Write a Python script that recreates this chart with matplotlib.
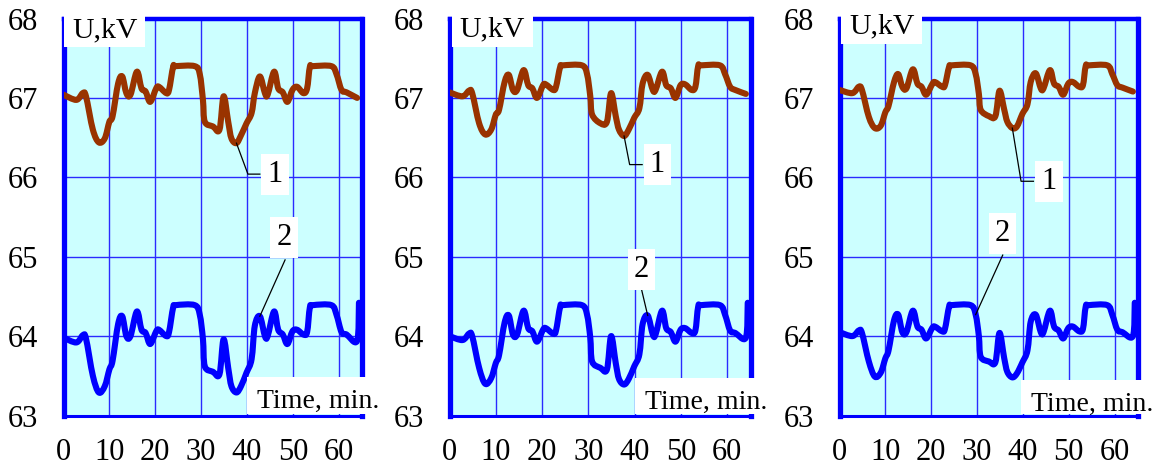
import matplotlib
matplotlib.use("Agg")
import matplotlib.pyplot as plt
from matplotlib.patches import Rectangle, PathPatch
from matplotlib.path import Path

W, H, DPI = 1174, 469, 100

# Sampling instants, minutes
time_min = [0, 2.8, 4.2, 4.9, 6.4, 7.7, 9.0, 10.0, 10.7, 11.9, 12.8, 13.7, 14.6,
            16.0, 17.0, 17.9, 18.9, 20.2, 20.8, 22.4, 23.0, 23.9, 24.5, 28.6,
            29.7, 30.4, 30.8, 32.6, 34.0, 34.9, 35.9, 36.6, 37.7, 38.7, 39.9,
            41.0, 41.7, 42.8, 43.9, 44.5, 45.9, 46.8, 47.8, 48.8, 49.9, 50.9,
            52.3, 53.1, 53.7, 54.4, 58.4, 59.5, 60.6, 61.7, 64.0]
# curve 2 finishes with a final step-up sample
time_min_2 = time_min + [64.4]

# Panel (a)
u1_a = [67.04, 66.975, 67.06, 67.02, 66.6, 66.44, 66.49, 66.7, 66.77, 67.18, 67.27,
        67.06, 67.04, 67.33, 67.12, 67.08, 66.95, 67.12, 67.14, 67.06, 67.1, 67.39,
        67.4, 67.4, 67.3, 66.97, 66.7, 66.64, 66.6, 67.02, 66.7, 66.49, 66.43,
        66.53, 66.68, 66.81, 67.06, 67.27, 67.06, 67.04, 67.33, 67.12, 67.07,
        66.95, 67.1, 67.14, 67.06, 67.12, 67.39, 67.4, 67.4, 67.3, 67.1, 67.07, 67.0]
u2_a = [63.98, 63.92, 64.01, 63.97, 63.5, 63.29, 63.37, 63.58, 63.69, 64.15, 64.25,
        64.0, 64.0, 64.31, 64.08, 64.04, 63.9, 64.06, 64.08, 64.0, 64.05, 64.36,
        64.39, 64.39, 64.27, 63.96, 63.62, 63.55, 63.52, 63.96, 63.6, 63.37, 63.29,
        63.37, 63.54, 63.71, 64.13, 64.25, 64.0, 64.0, 64.31, 64.08, 64.02, 63.9,
        64.06, 64.08, 64.02, 64.05, 64.36, 64.39, 64.39, 64.27, 64.05, 64.02,
        63.94, 64.42]

# Panel (b)
u1_b = [67.07, 67.02, 67.09, 67.06, 66.68, 66.54, 66.6, 66.79, 66.85, 67.2, 67.29,
        67.1, 67.1, 67.35, 67.16, 67.12, 67.0, 67.16, 67.17, 67.1, 67.14, 67.39,
        67.41, 67.41, 67.3, 67.02, 66.79, 66.68, 66.7, 67.06, 66.77, 66.6, 66.52,
        66.6, 66.75, 66.87, 67.18, 67.29, 67.1, 67.1, 67.33, 67.16, 67.12, 67.0,
        67.16, 67.17, 67.1, 67.14, 67.4, 67.41, 67.41, 67.3, 67.14, 67.1, 67.05]
u2_b = [64.0, 63.95, 64.03, 64.0, 63.6, 63.4, 63.47, 63.66, 63.76, 64.17, 64.26,
        64.02, 64.02, 64.32, 64.1, 64.06, 63.93, 64.08, 64.1, 64.03, 64.07, 64.37,
        64.39, 64.39, 64.27, 63.98, 63.68, 63.6, 63.58, 64.0, 63.66, 63.46, 63.39,
        63.46, 63.62, 63.77, 64.15, 64.26, 64.02, 64.02, 64.32, 64.1, 64.05, 63.93,
        64.08, 64.1, 64.04, 64.07, 64.37, 64.39, 64.39, 64.27, 64.07, 64.04,
        63.98, 64.42]

# Panel (c)
u1_c = [67.1, 67.06, 67.14, 67.1, 66.76, 66.62, 66.65, 66.82, 66.9, 67.2, 67.3,
        67.14, 67.12, 67.36, 67.18, 67.14, 67.04, 67.17, 67.2, 67.14, 67.16, 67.39,
        67.41, 67.41, 67.3, 67.05, 66.85, 66.77, 66.77, 67.09, 66.86, 66.7, 66.62,
        66.64, 66.8, 66.92, 67.2, 67.31, 67.12, 67.12, 67.35, 67.18, 67.14, 67.04,
        67.18, 67.2, 67.14, 67.16, 67.4, 67.41, 67.41, 67.3, 67.16, 67.13, 67.08]
u2_c = [64.05, 64.0, 64.07, 64.04, 63.68, 63.49, 63.54, 63.72, 63.82, 64.2, 64.27,
        64.05, 64.05, 64.32, 64.12, 64.08, 63.97, 64.1, 64.12, 64.06, 64.09, 64.37,
        64.39, 64.39, 64.27, 64.0, 63.74, 63.68, 63.67, 64.04, 63.73, 63.55, 63.48,
        63.53, 63.67, 63.82, 64.18, 64.27, 64.05, 64.05, 64.32, 64.12, 64.07, 63.97,
        64.1, 64.12, 64.06, 64.09, 64.37, 64.39, 64.39, 64.27, 64.08, 64.05,
        64.0, 64.42]

x_ticks = [0, 10, 20, 30, 40, 50, 60]
y_ticks = [63, 64, 65, 66, 67, 68]
y_label = "U,kV"
x_label = "Time, min."

BLUE = "#0000ff"
GRID = "#2a2aff"
BROWN = "#993300"
FILL = "#ccffff"
FS_TICK = 22
FS_ULAB = 21.5
FS_TLAB = 20

plt.rcParams["font.family"] = ["Liberation Serif", "DejaVu Serif"]
fig = plt.figure(figsize=(W / DPI, H / DPI), dpi=DPI)


def frac_rect(x0, y0, x1, y1):
    """Pixel box (top-left origin) -> figure-fraction rect."""
    return [x0 / W, 1 - y1 / H, (x1 - x0) / W, (y1 - y0) / H]


def white_box(x0, y0, x1, y1):
    fig.patches.append(Rectangle((x0 / W, 1 - y1 / H), (x1 - x0) / W, (y1 - y0) / H,
                                 transform=fig.transFigure, fc="white", ec="none",
                                 zorder=5))


def smooth_line(ax, xs, ys, **kw):
    """Draw a smoothed (Catmull-Rom / cubic Bezier) line through the samples."""
    pts = list(zip(xs, ys))
    n = len(pts)
    verts, codes = [pts[0]], [Path.MOVETO]
    for i in range(n - 1):
        p0 = pts[max(i - 1, 0)]
        p1 = pts[i]
        p2 = pts[i + 1]
        p3 = pts[min(i + 2, n - 1)]
        c1 = (p1[0] + (p2[0] - p0[0]) / 6, p1[1] + (p2[1] - p0[1]) / 6)
        c2 = (p2[0] - (p3[0] - p1[0]) / 6, p2[1] - (p3[1] - p1[1]) / 6)
        verts += [c1, c2, p2]
        codes += [Path.CURVE4] * 3
    patch = PathPatch(Path(verts, codes), fill=False, capstyle="round",
                      joinstyle="round", **kw)
    ax.add_patch(patch)


panels = [
    dict(ax_px=(63.5, 18.5, 361.7, 415.5), u1=u1_a, u2=u2_a,
         ubox=(64, 15, 145, 47), utxt=(72, 37),
         tbox=(247, 377, 382, 414), ttxt=(257, 408),
         lab1=(46.1, 66.04), bend1=40.2, edge1=42.8, i1=32,
         lab2=(48.1, 65.24), top2=(48.3, 64.96), i2=37),
    dict(ax_px=(449.5, 18.5, 750.5, 415.5), u1=u1_b, u2=u2_b,
         ubox=(452, 15, 533, 47), utxt=(459, 36),
         tbox=(635, 378, 775, 414), ttxt=(645, 409),
         lab1=(44.9, 66.16), bend1=38.9, edge1=41.6, i1=32,
         lab2=(41.5, 64.84), top2=(41.5, 64.58), i2=37),
    dict(ax_px=(839.5, 18.5, 1137.5, 415.5), u1=u1_c, u2=u2_c,
         ubox=(841, 14, 922, 44), utxt=(849, 33),
         tbox=(1021, 380, 1162, 414), ttxt=(1031, 411),
         lab1=(45.7, 65.95), bend1=39.6, edge1=42.3, i1=32,
         lab2=(35.5, 65.29), top2=(35.6, 65.02), i2=24),
]

for p in panels:
    x0, y0, x1, y1 = p["ax_px"]
    ax = fig.add_axes(frac_rect(x0, y0, x1, y1))
    ax.set_facecolor(FILL)
    ax.set_xlim(0, 65)
    ax.set_ylim(63, 68)
    ax.set_xticks(x_ticks)
    ax.set_yticks(y_ticks)
    ax.tick_params(length=0, labelsize=FS_TICK)
    ax.tick_params(axis="y", pad=18.5)
    ax.tick_params(axis="x", pad=16)
    ax.grid(True, color=GRID, lw=1.0)
    ax.set_axisbelow(True)
    for side, lw in (("left", 3.8), ("right", 3.8), ("top", 3.2), ("bottom", 2.2)):
        ax.spines[side].set_color(BLUE)
        ax.spines[side].set_linewidth(lw)

    smooth_line(ax, time_min, p["u1"], color=BROWN, lw=4.4, zorder=3)
    smooth_line(ax, time_min_2, p["u2"], color=BLUE, lw=4.4, zorder=3)

    # callout for curve 1 (bent leader)
    i1 = p["i1"]
    lx, ly = p["lab1"]
    ax.plot([time_min[i1], p["bend1"], p["edge1"]], [p["u1"][i1], ly, ly],
            color="black", lw=0.9, zorder=4)
    ax.text(lx, ly, "1", fontsize=FS_TICK, ha="center", va="center", zorder=6,
            bbox=dict(boxstyle="square,pad=0.2", fc="white", ec="none"))

    # callout for curve 2 (straight leader)
    i2 = p["i2"]
    lx2, ly2 = p["lab2"]
    ax.plot([p["top2"][0], time_min[i2]], [p["top2"][1], p["u2"][i2]],
            color="black", lw=0.9, zorder=4)
    ax.text(lx2, ly2, "2", fontsize=FS_TICK, ha="center", va="center", zorder=6,
            bbox=dict(boxstyle="square,pad=0.2", fc="white", ec="none"))

    # axis captions on white plates
    white_box(*p["ubox"])
    fig.text(p["utxt"][0] / W, 1 - p["utxt"][1] / H, y_label, fontsize=FS_ULAB,
             ha="left", va="baseline", zorder=6)
    white_box(*p["tbox"])
    fig.text(p["ttxt"][0] / W, 1 - p["ttxt"][1] / H, x_label, fontsize=FS_TLAB,
             ha="left", va="baseline", zorder=6)

fig.savefig("out.png", dpi=DPI)
